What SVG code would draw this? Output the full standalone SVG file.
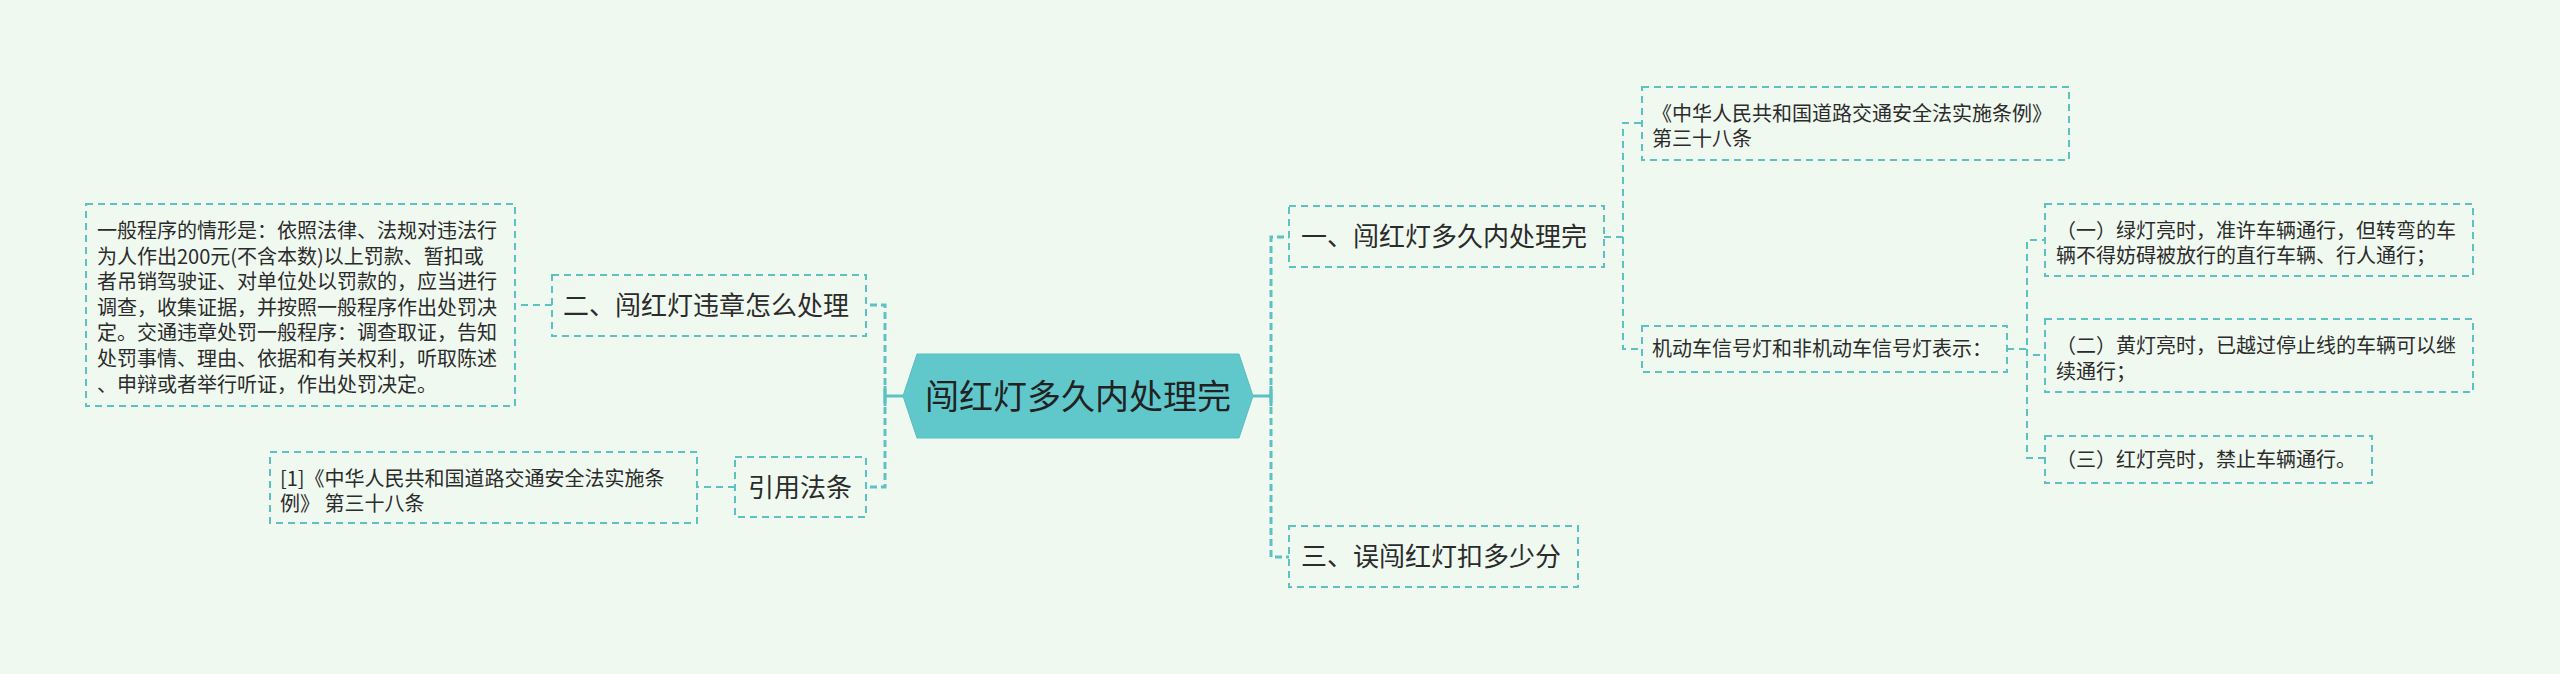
<svg xmlns="http://www.w3.org/2000/svg" width="2560" height="674" viewBox="0 0 2560 674">
<style>
.bg{fill:#f0f9f0}
.box{fill:none;stroke:#5ec1c4;stroke-width:2;stroke-dasharray:7 5}
.conn{fill:none;stroke:#5ec1c4;stroke-width:3;stroke-dasharray:7 4}
.conn2{fill:none;stroke:#5ec1c4;stroke-width:2;stroke-dasharray:7 5}
.solid{fill:none;stroke:#5ec1c4;stroke-width:3}
.t{font-family:"Noto Sans CJK SC","Noto Sans",sans-serif;fill:#2b2b2b}
.s{font-size:20px}
.m{font-size:26px}
.c{font-size:34px;fill:#222}
</style>
<rect class="bg" x="0" y="0" width="2560" height="674"/>
<g id="connectors">
<path class="solid" d="M903 396 H885 M885 386 V406"/>
<path class="conn" d="M885 396 V305 H866"/>
<path class="conn" d="M885 396 V487 H866"/>
<path class="conn2" d="M552 305 H515"/>
<path class="conn2" d="M735 487 H697"/>
<path class="solid" d="M1253 396 H1271 M1271 386 V406"/>
<path class="conn" d="M1271 396 V237 H1289"/>
<path class="conn" d="M1271 396 V557 H1289"/>
<path class="conn2" d="M1604 237 H1623 V123 H1642"/>
<path class="conn2" d="M1623 237 V349 H1642"/>
<path class="conn2" d="M2007 349 H2027 V240 H2045"/>
<path class="conn2" d="M2027 349 V355 H2045"/>
<path class="conn2" d="M2027 349 V458 H2045"/>
</g>
<g id="center">
<polygon points="903,396 917,354 1239,354 1253,396 1239,438 917,438" fill="#60c8cb" stroke="#58bfc2" stroke-width="1"/>
<text class="t c" x="1078" y="409" text-anchor="middle">闯红灯多久内处理完</text>
</g>
<g id="n-chuli">
<rect class="box" x="552" y="275" width="314" height="61"/>
<text class="t m" x="563" y="315">二、闯红灯违章怎么处理</text>
</g>
<g id="n-chuli-detail">
<rect class="box" x="86" y="204" width="429" height="202"/>
<text class="t s" x="97">
<tspan x="97" y="238">一般程序的情形是：依照法律、法规对违法行</tspan>
<tspan x="97" y="263.6">为人作出200元(不含本数)以上罚款、暂扣或</tspan>
<tspan x="97" y="289.2">者吊销驾驶证、对单位处以罚款的，应当进行</tspan>
<tspan x="97" y="314.8">调查，收集证据，并按照一般程序作出处罚决</tspan>
<tspan x="97" y="340.4">定。交通违章处罚一般程序：调查取证，告知</tspan>
<tspan x="97" y="366">处罚事情、理由、依据和有关权利，听取陈述</tspan>
<tspan x="97" y="391.6">、申辩或者举行听证，作出处罚决定。</tspan>
</text>
</g>
<g id="n-yinyong">
<rect class="box" x="735" y="457" width="131" height="60"/>
<text class="t m" x="748" y="497">引用法条</text>
</g>
<g id="n-yinyong-ref">
<rect class="box" x="270" y="452" width="427" height="71"/>
<text class="t s">
<tspan x="280" y="486">[1]《中华人民共和国道路交通安全法实施条</tspan>
<tspan x="280" y="511">例》 第三十八条</tspan>
</text>
</g>
<g id="n-yi">
<rect class="box" x="1289" y="206" width="315" height="61"/>
<text class="t m" x="1301" y="246">一、闯红灯多久内处理完</text>
</g>
<g id="n-san">
<rect class="box" x="1289" y="526" width="289" height="61"/>
<text class="t m" x="1301" y="566">三、误闯红灯扣多少分</text>
</g>
<g id="n-tiaoli">
<rect class="box" x="1642" y="87" width="427" height="73"/>
<text class="t s">
<tspan x="1652" y="121">《中华人民共和国道路交通安全法实施条例》</tspan>
<tspan x="1652" y="146">第三十八条</tspan>
</text>
</g>
<g id="n-xinhaodeng">
<rect class="box" x="1642" y="326" width="365" height="46"/>
<text class="t s" x="1652" y="356">机动车信号灯和非机动车信号灯表示：</text>
</g>
<g id="n-lvdeng">
<rect class="box" x="2045" y="204" width="428" height="72"/>
<text class="t s">
<tspan x="2056" y="238">（一）绿灯亮时，准许车辆通行，但转弯的车</tspan>
<tspan x="2056" y="263">辆不得妨碍被放行的直行车辆、行人通行；</tspan>
</text>
</g>
<g id="n-huangdeng">
<rect class="box" x="2045" y="319" width="428" height="73"/>
<text class="t s">
<tspan x="2056" y="353">（二）黄灯亮时，已越过停止线的车辆可以继</tspan>
<tspan x="2056" y="378.5">续通行；</tspan>
</text>
</g>
<g id="n-hongdeng">
<rect class="box" x="2045" y="436" width="327" height="47"/>
<text class="t s" x="2056" y="467">（三）红灯亮时，禁止车辆通行。</text>
</g>
</svg>
